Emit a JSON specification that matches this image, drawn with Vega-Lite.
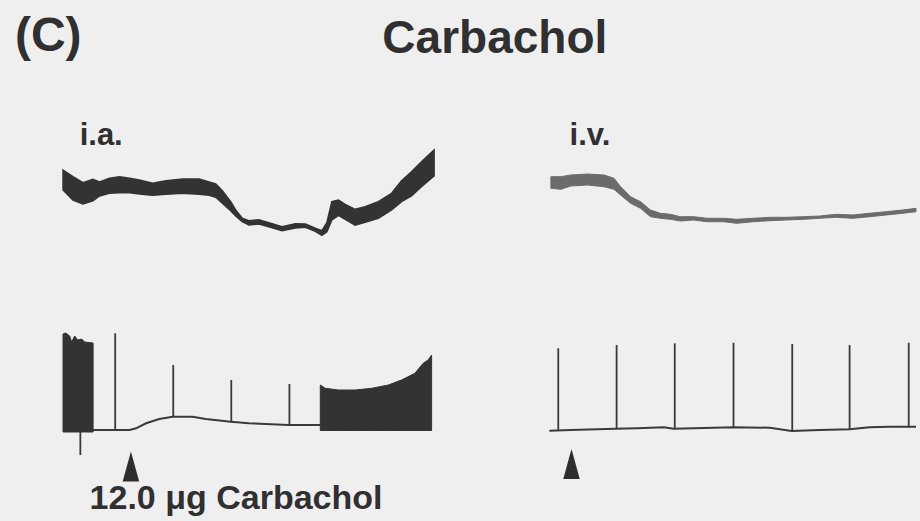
{
  "$schema": "https://vega.github.io/schema/vega-lite/v6.json",
  "width": 920,
  "height": 521,
  "padding": 0,
  "autosize": {"type": "fit", "contains": "padding"},
  "background": "#efefef",
  "config": {"view": {"stroke": null}},
  "datasets": {
    "ia_bp": [
      {"t": 63.3, "top": 170, "bottom": 190},
      {"t": 73.3, "top": 176.7, "bottom": 200},
      {"t": 83.3, "top": 182.7, "bottom": 204},
      {"t": 93.3, "top": 179.3, "bottom": 200.7},
      {"t": 100, "top": 182, "bottom": 196},
      {"t": 110, "top": 178.3, "bottom": 193.3},
      {"t": 120, "top": 176.7, "bottom": 192.7},
      {"t": 130, "top": 178.3, "bottom": 192.7},
      {"t": 140, "top": 180, "bottom": 194},
      {"t": 153.3, "top": 183.3, "bottom": 195.3},
      {"t": 166.7, "top": 180.7, "bottom": 194.3},
      {"t": 183.3, "top": 179, "bottom": 193.3},
      {"t": 200, "top": 179, "bottom": 194.3},
      {"t": 210, "top": 182, "bottom": 195.3},
      {"t": 216.7, "top": 184, "bottom": 197.3},
      {"t": 223.3, "top": 190.7, "bottom": 203.3},
      {"t": 231.7, "top": 201.7, "bottom": 210.7},
      {"t": 236.7, "top": 210, "bottom": 216},
      {"t": 243.3, "top": 218.3, "bottom": 221.7},
      {"t": 250, "top": 220.7, "bottom": 225},
      {"t": 260, "top": 219.7, "bottom": 224},
      {"t": 270, "top": 222.7, "bottom": 226.7},
      {"t": 283.3, "top": 226.7, "bottom": 230.7},
      {"t": 296.7, "top": 223.7, "bottom": 228},
      {"t": 306.7, "top": 224, "bottom": 227.3},
      {"t": 316.7, "top": 228.3, "bottom": 231.3},
      {"t": 323.3, "top": 230.7, "bottom": 235.3},
      {"t": 328.3, "top": 222.7, "bottom": 231.7},
      {"t": 333.3, "top": 201.7, "bottom": 220},
      {"t": 340, "top": 200, "bottom": 215.3},
      {"t": 346.7, "top": 204.3, "bottom": 219.3},
      {"t": 356.7, "top": 209.3, "bottom": 225.3},
      {"t": 366.7, "top": 206.7, "bottom": 222.3},
      {"t": 380, "top": 201.7, "bottom": 218.3},
      {"t": 393.3, "top": 193.3, "bottom": 210},
      {"t": 403.3, "top": 180.7, "bottom": 201.7},
      {"t": 413.3, "top": 171.7, "bottom": 196},
      {"t": 423.3, "top": 161.7, "bottom": 186.7},
      {"t": 436, "top": 150, "bottom": 176}
    ],
    "iv_bp": [
      {"t": 553.3, "top": 176.7, "bottom": 188.3},
      {"t": 563.3, "top": 176.7, "bottom": 189.3},
      {"t": 573.3, "top": 175, "bottom": 186},
      {"t": 590, "top": 174, "bottom": 185},
      {"t": 606.7, "top": 175, "bottom": 186.7},
      {"t": 616.7, "top": 178.3, "bottom": 189.3},
      {"t": 623.3, "top": 186.7, "bottom": 195},
      {"t": 633.3, "top": 196.7, "bottom": 203.3},
      {"t": 643.3, "top": 201.7, "bottom": 208.3},
      {"t": 653.3, "top": 210, "bottom": 216.7},
      {"t": 663.3, "top": 213.3, "bottom": 218.3},
      {"t": 673.3, "top": 214.3, "bottom": 219.3},
      {"t": 683.3, "top": 216.7, "bottom": 221},
      {"t": 696.7, "top": 216.7, "bottom": 220},
      {"t": 710, "top": 218.3, "bottom": 221.7},
      {"t": 726.7, "top": 218.3, "bottom": 221.7},
      {"t": 740, "top": 219.3, "bottom": 223.3},
      {"t": 756.7, "top": 218.3, "bottom": 221.7},
      {"t": 773.3, "top": 217.3, "bottom": 220.7},
      {"t": 790, "top": 217.3, "bottom": 220},
      {"t": 806.7, "top": 216.7, "bottom": 219.3},
      {"t": 823.3, "top": 216, "bottom": 218.3},
      {"t": 840, "top": 214.3, "bottom": 217.3},
      {"t": 856.7, "top": 215, "bottom": 218.3},
      {"t": 873.3, "top": 213.3, "bottom": 216.7},
      {"t": 890, "top": 211.7, "bottom": 215},
      {"t": 906.7, "top": 210, "bottom": 213.3},
      {"t": 920, "top": 208.3, "bottom": 211.7}
    ],
    "ia_blocks": [
      {"seg": "a", "t": 63.3, "top": 334, "bottom": 432},
      {"seg": "a", "t": 66, "top": 333, "bottom": 432},
      {"seg": "a", "t": 70, "top": 336, "bottom": 432},
      {"seg": "a", "t": 72, "top": 342, "bottom": 432},
      {"seg": "a", "t": 75, "top": 336, "bottom": 432},
      {"seg": "a", "t": 78, "top": 340, "bottom": 432},
      {"seg": "a", "t": 82, "top": 339, "bottom": 432},
      {"seg": "a", "t": 85, "top": 342, "bottom": 432},
      {"seg": "a", "t": 93.5, "top": 343, "bottom": 432},
      {"seg": "b", "t": 321.7, "top": 385, "bottom": 430.5},
      {"seg": "b", "t": 326.7, "top": 388.3, "bottom": 430.5},
      {"seg": "b", "t": 340, "top": 390, "bottom": 430.5},
      {"seg": "b", "t": 356.7, "top": 390, "bottom": 430.5},
      {"seg": "b", "t": 373.3, "top": 388.3, "bottom": 430.5},
      {"seg": "b", "t": 390, "top": 385, "bottom": 430.5},
      {"seg": "b", "t": 403.3, "top": 380, "bottom": 430.5},
      {"seg": "b", "t": 416.7, "top": 373.3, "bottom": 430.5},
      {"seg": "b", "t": 425, "top": 363.3, "bottom": 430.5},
      {"seg": "b", "t": 430, "top": 360, "bottom": 430.5},
      {"seg": "b", "t": 433.5, "top": 355, "bottom": 430.5}
    ],
    "baselines": [
      {"trace": "ia", "t": 93.3, "v": 430},
      {"trace": "ia", "t": 120, "v": 430},
      {"trace": "ia", "t": 130, "v": 430},
      {"trace": "ia", "t": 136.7, "v": 428.3},
      {"trace": "ia", "t": 146.7, "v": 423.3},
      {"trace": "ia", "t": 160, "v": 419},
      {"trace": "ia", "t": 173.3, "v": 416.7},
      {"trace": "ia", "t": 193.3, "v": 416.7},
      {"trace": "ia", "t": 206.7, "v": 419},
      {"trace": "ia", "t": 231.7, "v": 421.7},
      {"trace": "ia", "t": 250, "v": 423.3},
      {"trace": "ia", "t": 290, "v": 425},
      {"trace": "ia", "t": 322, "v": 425},
      {"trace": "iv", "t": 551.7, "v": 430.7},
      {"trace": "iv", "t": 573.3, "v": 430},
      {"trace": "iv", "t": 618.3, "v": 428.7},
      {"trace": "iv", "t": 640, "v": 428.3},
      {"trace": "iv", "t": 666.7, "v": 427.3},
      {"trace": "iv", "t": 676.7, "v": 428.7},
      {"trace": "iv", "t": 706.7, "v": 428},
      {"trace": "iv", "t": 736.7, "v": 427.3},
      {"trace": "iv", "t": 773.3, "v": 427.7},
      {"trace": "iv", "t": 795, "v": 431},
      {"trace": "iv", "t": 823.3, "v": 430},
      {"trace": "iv", "t": 853.3, "v": 429.3},
      {"trace": "iv", "t": 873.3, "v": 427.3},
      {"trace": "iv", "t": 893.3, "v": 426.7},
      {"trace": "iv", "t": 920, "v": 426.7}
    ],
    "spikes": [
      {"t": 80.7, "base": 431.7, "peak": 455},
      {"t": 115.7, "base": 430, "peak": 333.3},
      {"t": 174, "base": 416.7, "peak": 365},
      {"t": 232.3, "base": 421.7, "peak": 380},
      {"t": 290.7, "base": 425, "peak": 384},
      {"t": 560.7, "base": 430, "peak": 348.3},
      {"t": 619.3, "base": 428.7, "peak": 345},
      {"t": 677.7, "base": 428.7, "peak": 343.3},
      {"t": 736.7, "base": 427.3, "peak": 342.7},
      {"t": 795.7, "base": 430, "peak": 344},
      {"t": 853.3, "base": 429.3, "peak": 345},
      {"t": 912.7, "base": 426.7, "peak": 342.7}
    ],
    "arrows": [
      {"t": 131.5, "v": 466.5},
      {"t": 574, "v": 464}
    ]
  },
  "encoding": {
    "x": {"type": "quantitative", "scale": {"domain": [0, 920], "nice": false, "zero": false}, "axis": null},
    "y": {"type": "quantitative", "scale": {"domain": [0, 521], "nice": false, "zero": false, "reverse": true}, "axis": null}
  },
  "layer": [
    {
      "data": {"name": "ia_bp"},
      "mark": {"type": "area", "color": "#333333", "stroke": "#333333", "strokeWidth": 1.5},
      "encoding": {
        "x": {"field": "t", "type": "quantitative"},
        "y": {"field": "top", "type": "quantitative"},
        "y2": {"field": "bottom"}
      }
    },
    {
      "data": {"name": "iv_bp"},
      "mark": {"type": "area", "color": "#6b6b6b", "stroke": "#6b6b6b", "strokeWidth": 1},
      "encoding": {
        "x": {"field": "t", "type": "quantitative"},
        "y": {"field": "top", "type": "quantitative"},
        "y2": {"field": "bottom"}
      }
    },
    {
      "data": {"name": "ia_blocks"},
      "mark": {"type": "area", "color": "#333333", "stroke": "#333333", "strokeWidth": 1},
      "encoding": {
        "x": {"field": "t", "type": "quantitative"},
        "y": {"field": "top", "type": "quantitative"},
        "y2": {"field": "bottom"},
        "detail": {"field": "seg"}
      }
    },
    {
      "data": {"name": "baselines"},
      "mark": {"type": "line", "color": "#3a3a3a", "strokeWidth": 2},
      "encoding": {
        "x": {"field": "t", "type": "quantitative"},
        "y": {"field": "v", "type": "quantitative"},
        "detail": {"field": "trace"}
      }
    },
    {
      "data": {"name": "spikes"},
      "mark": {"type": "rule", "color": "#3a3a3a", "strokeWidth": 1.8},
      "encoding": {
        "x": {"field": "t", "type": "quantitative"},
        "y": {"field": "base", "type": "quantitative"},
        "y2": {"field": "peak"}
      }
    },
    {
      "data": {"name": "arrows"},
      "mark": {"type": "point", "shape": "M0,-1L0.55,1L-0.55,1Z", "size": 900, "filled": true, "color": "#2e2e2e", "opacity": 1},
      "encoding": {
        "x": {"field": "t", "type": "quantitative"},
        "y": {"field": "v", "type": "quantitative"}
      }
    },
    {
      "data": {"values": [{"t": 15, "v": 51, "label": "(C)"}]},
      "mark": {"type": "text", "align": "left", "baseline": "alphabetic", "font": "Liberation Sans", "fontWeight": "bold", "fontSize": 48, "color": "#303030"},
      "encoding": {
        "x": {"field": "t", "type": "quantitative"},
        "y": {"field": "v", "type": "quantitative"},
        "text": {"field": "label"}
      }
    },
    {
      "data": {"values": [{"t": 497, "v": 53, "label": "Carbachol"}]},
      "mark": {"type": "text", "align": "center", "baseline": "alphabetic", "font": "Liberation Sans", "fontWeight": "bold", "fontSize": 46, "color": "#303030"},
      "encoding": {
        "x": {"field": "t", "type": "quantitative"},
        "y": {"field": "v", "type": "quantitative"},
        "text": {"field": "label"}
      }
    },
    {
      "data": {"values": [{"t": 80, "v": 145, "label": "i.a."}, {"t": 572, "v": 145, "label": "i.v."}]},
      "mark": {"type": "text", "align": "left", "baseline": "alphabetic", "font": "Liberation Sans", "fontWeight": "bold", "fontSize": 31, "color": "#303030"},
      "encoding": {
        "x": {"field": "t", "type": "quantitative"},
        "y": {"field": "v", "type": "quantitative"},
        "text": {"field": "label"}
      }
    },
    {
      "data": {"values": [{"t": 90, "v": 509, "label": "12.0 μg Carbachol"}]},
      "mark": {"type": "text", "align": "left", "baseline": "alphabetic", "font": "Liberation Sans", "fontWeight": "bold", "fontSize": 34, "color": "#303030"},
      "encoding": {
        "x": {"field": "t", "type": "quantitative"},
        "y": {"field": "v", "type": "quantitative"},
        "text": {"field": "label"}
      }
    }
  ]
}
